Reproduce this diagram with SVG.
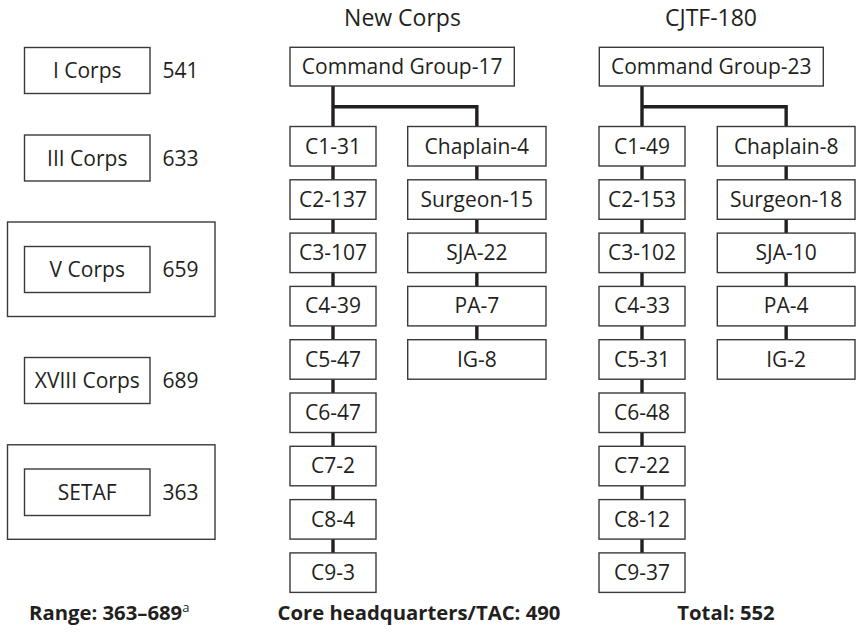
<svg xmlns="http://www.w3.org/2000/svg" width="856" height="635" viewBox="0 0 856 635">
<style>
  .box{fill:#fff;stroke:#3a3a3a;stroke-width:1.4}
  .outer{fill:none;stroke:#3a3a3a;stroke-width:1.4}
  .t{font-family:"Open Sans","Noto Sans","Liberation Sans",sans-serif;font-size:21px;fill:#231f20;text-anchor:middle}
  .title{font-family:"Open Sans","Noto Sans","Liberation Sans",sans-serif;font-size:23px;fill:#231f20;text-anchor:middle}
  .foot{font-family:"Open Sans","Noto Sans","Liberation Sans",sans-serif;font-size:20.3px;font-weight:bold;fill:#231f20}
  .c{fill:none;stroke:#231f20;stroke-width:3.4}
</style>
<rect width="856" height="635" fill="#fff"/>

<!-- Left column -->
<g id="i-corps"><rect class="box" x="24.5" y="47.5" width="125.5" height="46"/><text class="t" x="87.25" y="78">I Corps</text><text class="t" x="180.5" y="78">541</text></g>
<g id="iii-corps"><rect class="box" x="24.5" y="135" width="125.5" height="46"/><text class="t" x="87.25" y="165.5">III Corps</text><text class="t" x="180.5" y="165.5">633</text></g>
<g id="v-corps"><rect class="outer" x="7.5" y="222" width="207.5" height="94.5"/><rect class="box" x="24.5" y="246.5" width="125.5" height="46"/><text class="t" x="87.25" y="277">V Corps</text><text class="t" x="180.5" y="277">659</text></g>
<g id="xviii-corps"><rect class="box" x="24.5" y="357.5" width="125.5" height="46"/><text class="t" x="87.25" y="388">XVIII Corps</text><text class="t" x="180.5" y="388">689</text></g>
<g id="setaf"><rect class="outer" x="7.5" y="444.8" width="207.5" height="94.5"/><rect class="box" x="24.5" y="469" width="125.5" height="46.5"/><text class="t" x="87.25" y="499.5">SETAF</text><text class="t" x="180.5" y="499.5">363</text></g>

<!-- Titles -->
<text class="title" x="402.5" y="26">New Corps</text>
<text class="title" x="711" y="26">CJTF-180</text>

<!-- Connectors -->
<g id="connectors">
  <path class="c" d="M333,86 V126.5 M333,106.7 H476.85 V126.5"/>
  <path class="c" d="M333,166 V179.8 M333,219.3 V233.1 M333,272.6 V286.4 M333,325.9 V339.7 M333,379.2 V393 M333,432.5 V446.3 M333,485.8 V499.6 M333,539.1 V552.9"/>
  <path class="c" d="M476.85,166 V179.8 M476.85,219.3 V233.1 M476.85,272.6 V286.4 M476.85,325.9 V339.7"/>
  <path class="c" d="M642,86 V126.5 M642,106.7 H786.15 V126.5"/>
  <path class="c" d="M642,166 V179.8 M642,219.3 V233.1 M642,272.6 V286.4 M642,325.9 V339.7 M642,379.2 V393 M642,432.5 V446.3 M642,485.8 V499.6 M642,539.1 V552.9"/>
  <path class="c" d="M786.15,166 V179.8 M786.15,219.3 V233.1 M786.15,272.6 V286.4 M786.15,325.9 V339.7"/>
</g>

<!-- New Corps -->
<g id="nc-cmd"><rect class="box" x="290" y="47.3" width="224.3" height="38.7"/><text class="t" x="402.15" y="74">Command Group-17</text></g>
<g id="nc-c1"><rect class="box" x="290" y="126.5" width="86" height="39.5"/><text class="t" x="333" y="153.5">C1-31</text></g>
<g id="nc-c2"><rect class="box" x="290" y="179.8" width="86" height="39.5"/><text class="t" x="333" y="206.8">C2-137</text></g>
<g id="nc-c3"><rect class="box" x="290" y="233.1" width="86" height="39.5"/><text class="t" x="333" y="260.1">C3-107</text></g>
<g id="nc-c4"><rect class="box" x="290" y="286.4" width="86" height="39.5"/><text class="t" x="333" y="313.4">C4-39</text></g>
<g id="nc-c5"><rect class="box" x="290" y="339.7" width="86" height="39.5"/><text class="t" x="333" y="366.7">C5-47</text></g>
<g id="nc-c6"><rect class="box" x="290" y="393" width="86" height="39.5"/><text class="t" x="333" y="420">C6-47</text></g>
<g id="nc-c7"><rect class="box" x="290" y="446.3" width="86" height="39.5"/><text class="t" x="333" y="473.3">C7-2</text></g>
<g id="nc-c8"><rect class="box" x="290" y="499.6" width="86" height="39.5"/><text class="t" x="333" y="526.6">C8-4</text></g>
<g id="nc-c9"><rect class="box" x="290" y="552.9" width="86" height="39.5"/><text class="t" x="333" y="579.9">C9-3</text></g>
<g id="nc-chaplain"><rect class="box" x="407.7" y="126.5" width="138.3" height="39.5"/><text class="t" x="476.85" y="153.5">Chaplain-4</text></g>
<g id="nc-surgeon"><rect class="box" x="407.7" y="179.8" width="138.3" height="39.5"/><text class="t" x="476.85" y="206.8">Surgeon-15</text></g>
<g id="nc-sja"><rect class="box" x="407.7" y="233.1" width="138.3" height="39.5"/><text class="t" x="476.85" y="260.1">SJA-22</text></g>
<g id="nc-pa"><rect class="box" x="407.7" y="286.4" width="138.3" height="39.5"/><text class="t" x="476.85" y="313.4">PA-7</text></g>
<g id="nc-ig"><rect class="box" x="407.7" y="339.7" width="138.3" height="39.5"/><text class="t" x="476.85" y="366.7">IG-8</text></g>

<!-- CJTF-180 -->
<g id="cj-cmd"><rect class="box" x="599.3" y="47.3" width="224" height="38.7"/><text class="t" x="711.3" y="74">Command Group-23</text></g>
<g id="cj-c1"><rect class="box" x="599" y="126.5" width="86" height="39.5"/><text class="t" x="642" y="153.5">C1-49</text></g>
<g id="cj-c2"><rect class="box" x="599" y="179.8" width="86" height="39.5"/><text class="t" x="642" y="206.8">C2-153</text></g>
<g id="cj-c3"><rect class="box" x="599" y="233.1" width="86" height="39.5"/><text class="t" x="642" y="260.1">C3-102</text></g>
<g id="cj-c4"><rect class="box" x="599" y="286.4" width="86" height="39.5"/><text class="t" x="642" y="313.4">C4-33</text></g>
<g id="cj-c5"><rect class="box" x="599" y="339.7" width="86" height="39.5"/><text class="t" x="642" y="366.7">C5-31</text></g>
<g id="cj-c6"><rect class="box" x="599" y="393" width="86" height="39.5"/><text class="t" x="642" y="420">C6-48</text></g>
<g id="cj-c7"><rect class="box" x="599" y="446.3" width="86" height="39.5"/><text class="t" x="642" y="473.3">C7-22</text></g>
<g id="cj-c8"><rect class="box" x="599" y="499.6" width="86" height="39.5"/><text class="t" x="642" y="526.6">C8-12</text></g>
<g id="cj-c9"><rect class="box" x="599" y="552.9" width="86" height="39.5"/><text class="t" x="642" y="579.9">C9-37</text></g>
<g id="cj-chaplain"><rect class="box" x="717.3" y="126.5" width="137.7" height="39.5"/><text class="t" x="786.15" y="153.5">Chaplain-8</text></g>
<g id="cj-surgeon"><rect class="box" x="717.3" y="179.8" width="137.7" height="39.5"/><text class="t" x="786.15" y="206.8">Surgeon-18</text></g>
<g id="cj-sja"><rect class="box" x="717.3" y="233.1" width="137.7" height="39.5"/><text class="t" x="786.15" y="260.1">SJA-10</text></g>
<g id="cj-pa"><rect class="box" x="717.3" y="286.4" width="137.7" height="39.5"/><text class="t" x="786.15" y="313.4">PA-4</text></g>
<g id="cj-ig"><rect class="box" x="717.3" y="339.7" width="137.7" height="39.5"/><text class="t" x="786.15" y="366.7">IG-2</text></g>

<!-- Footers -->
<text class="foot" x="29" y="620">Range: 363–689<tspan font-size="13" font-weight="normal" dy="-8">a</tspan></text>
<text class="foot" x="419" y="620" text-anchor="middle">Core headquarters/TAC: 490</text>
<text class="foot" x="726" y="620" text-anchor="middle">Total: 552</text>
</svg>
